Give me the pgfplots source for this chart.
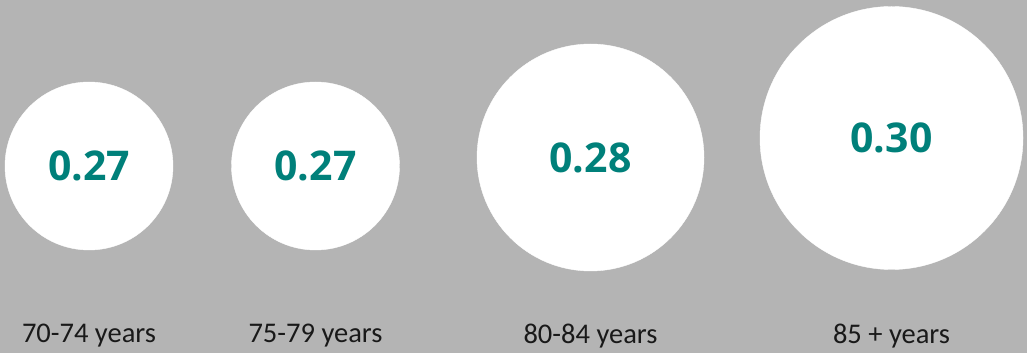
\documentclass[border=0pt]{standalone}
\usepackage{pgfplots}
\pgfplotsset{compat=1.18}
\usepackage{fontspec}
\setmainfont{Carlito}
\newfontfamily\numfont{Open Sans}
\definecolor{bggray}{RGB}{180,180,180}
\definecolor{tealnum}{RGB}{0,128,122}
\begin{document}
\begin{tikzpicture}
\begin{axis}[
  scale only axis, width=1027pt, height=353pt,
  xmin=0, xmax=1027, ymin=0, ymax=353,
  axis lines=none, ticks=none,
  axis background/.style={fill=bggray, draw=none},
  clip=false,
  bubble/.style={only marks, mark=*, color=white,
    mark options={draw=white, fill=white},
    point meta=explicit symbolic,
    nodes near coords={\numfont\bfseries\fontsize{41}{44}\selectfont\color{tealnum}\pgfplotspointmeta},
    nodes near coords align={center}},
]
\addplot[bubble, mark size=84pt] coordinates {(89,187) [0.27]};
\addplot[bubble, mark size=84pt] coordinates {(315.5,187) [0.27]};
\addplot[bubble, mark size=113.5pt] coordinates {(590.5,195.5) [0.28]};
\addplot[bubble, mark size=131.5pt] coordinates {(891.5,215) [0.30]};
\addplot[only marks, mark=none,
  nodes near coords={\fontsize{28.5}{30}\selectfont\color{black!90}\pgfplotspointmeta},
  point meta=explicit symbolic,
  nodes near coords align={center},
] coordinates {(89,17) [70-74 years] (315.5,17) [75-79 years] (590.5,17) [80-84 years] (891.5,17) [85 + years]};
\end{axis}
\end{tikzpicture}
\end{document}
